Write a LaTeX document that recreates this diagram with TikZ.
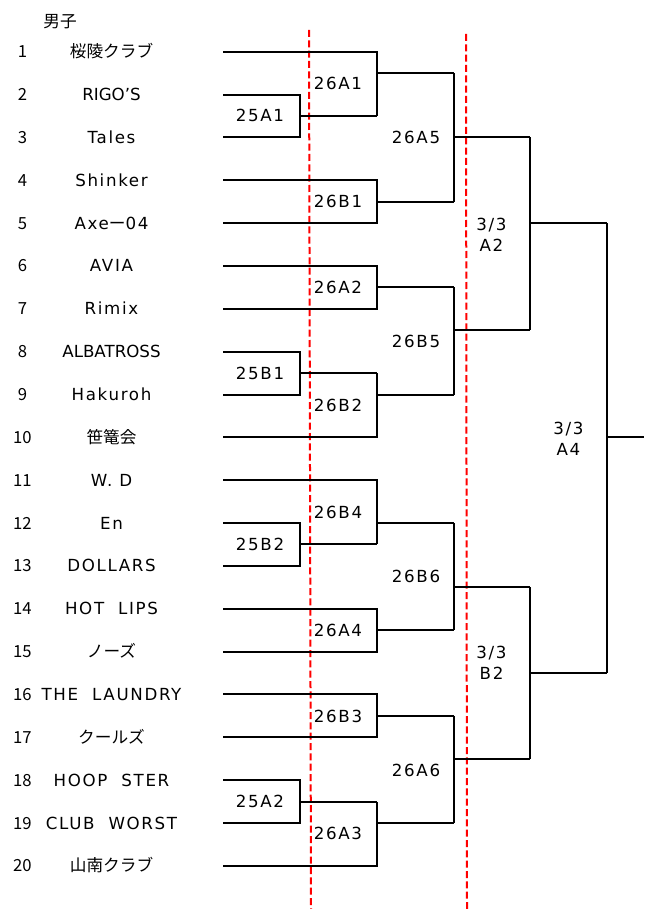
\documentclass[tikz,border=0pt]{standalone}
\usepackage{fontspec}
\setmainfont{DejaVu Sans}[LetterSpace=10]
\newfontfamily\jpfont{Noto Sans CJK JP}
\newfontfamily\tightfont{DejaVu Sans}
\tikzset{
  bk/.style={line width=1.5pt, draw=black},
  cutline/.style={draw=red, line width=1.5pt, dash pattern=on 5.25pt off 2.5pt},
  num/.style={font=\jpfont\fontsize{12.5}{15.75}\selectfont, anchor=base, inner sep=0pt},
  team/.style={font=\fontsize{12.5}{15.75}\selectfont, anchor=base, inner sep=0pt},
  mlbl/.style={font=\fontsize{12.5}{15.75}\selectfont, anchor=base, inner sep=0pt, align=center},
}
\begin{document}
\begin{tikzpicture}[x=0.75pt, y=-0.75pt]
  \useasboundingbox (0,0) rectangle (644,909);
  % red cut lines
  \draw[cutline] (309,30) -- (311,909);
  \draw[cutline] (466,34) -- (467,909);
  % columns of the bracket
  \coordinate (c25) at (300,0);
  \coordinate (c26) at (376.7,0);
  \coordinate (c26f) at (454,0);
  \coordinate (c33) at (530,0);
  \coordinate (c33f) at (606.7,0);
  \coordinate (c34) at (644,0);
  \node[num] (ttl) at (60,27.8) {男子};
  % teams
  \foreach \nm [count=\i] in {{\jpfont 桜陵クラブ}, {\tightfont RIGO’S}, Tales, Shinker, Axe{\jpfont ー}04, AVIA, Rimix, {\tightfont ALBATROSS}, Hakuroh, {\jpfont 笹篭会}, W. D, En, DOLLARS, HOT~~LIPS, {\jpfont ノーズ}, THE~~LAUNDRY, {\jpfont クールズ}, HOOP~~STER, CLUB~~WORST, {\jpfont 山南クラブ}} {
    \pgfmathsetmacro\yy{51.7+(\i-1)*42.85}
    \node[num] (n\i) at (22.5,\yy+6) {\i};
    \node[team] (t\i) at (111.5,\yy+6) {\nm};
    \coordinate (s\i) at (223,\yy);
  }
  \foreach \i in {1,...,19} {
    \pgfmathsetmacro\yy{51.7+(\i-0.5)*42.85}
    \coordinate (h\i) at (223,\yy);
  }
  % upper half
  \draw[bk] (s2) -| (c25 |- s3) -- (s3);
  \draw[bk] (c25 |- h2) -- (c26 |- h2);
  \draw[bk] (s1) -| (c26 |- h2);
  \draw[bk] (c26 |- h1) -- (c26f |- h1);
  \draw[bk] (s4) -| (c26 |- s5) -- (s5);
  \draw[bk] (c26 |- h4) -- (c26f |- h4);
  \draw[bk] (c26f |- h1) -- (c26f |- h4);
  \draw[bk] (c26f |- s3) -- (c33 |- s3);
  \draw[bk] (s6) -| (c26 |- s7) -- (s7);
  \draw[bk] (c26 |- h6) -- (c26f |- h6);
  \draw[bk] (s8) -| (c25 |- s9) -- (s9);
  \draw[bk] (c25 |- h8) -- (c26 |- h8);
  \draw[bk] (s10) -| (c26 |- h8);
  \draw[bk] (c26 |- s9) -- (c26f |- s9);
  \draw[bk] (c26f |- h6) -- (c26f |- s9);
  \draw[bk] (c26f |- h7) -- (c33 |- h7);
  \draw[bk] (c33 |- s3) -- (c33 |- h7);
  \draw[bk] (c33 |- s5) -- (c33f |- s5);
  % lower half
  \draw[bk] (s12) -| (c25 |- s13) -- (s13);
  \draw[bk] (c25 |- h12) -- (c26 |- h12);
  \draw[bk] (s11) -| (c26 |- h12);
  \draw[bk] (c26 |- s12) -- (c26f |- s12);
  \draw[bk] (s14) -| (c26 |- s15) -- (s15);
  \draw[bk] (c26 |- h14) -- (c26f |- h14);
  \draw[bk] (c26f |- s12) -- (c26f |- h14);
  \draw[bk] (c26f |- h13) -- (c33 |- h13);
  \draw[bk] (s16) -| (c26 |- s17) -- (s17);
  \draw[bk] (c26 |- h16) -- (c26f |- h16);
  \draw[bk] (s18) -| (c25 |- s19) -- (s19);
  \draw[bk] (c25 |- h18) -- (c26 |- h18);
  \draw[bk] (s20) -| (c26 |- h18);
  \draw[bk] (c26 |- s19) -- (c26f |- s19);
  \draw[bk] (c26f |- h16) -- (c26f |- s19);
  \draw[bk] (c26f |- h17) -- (c33 |- h17);
  \draw[bk] (c33 |- h13) -- (c33 |- h17);
  \draw[bk] (c33 |- h15) -- (c33f |- h15);
  % final
  \draw[bk] (c33f |- s5) -- (c33f |- h15);
  \draw[bk] (c33f |- s10) -- (c34 |- s10);
  % match labels
  \node[mlbl] (m25A1) at (260,121.6) {25A1};
  \node[mlbl] (m25B1) at (260,379.1) {25B1};
  \node[mlbl] (m25B2) at (260,550.5) {25B2};
  \node[mlbl] (m25A2) at (260,807.6) {25A2};
  \node[mlbl] (m26A1) at (338,89.7) {26A1};
  \node[mlbl] (m26B1) at (338,207.4) {26B1};
  \node[mlbl] (m26A2) at (338,293.3) {26A2};
  \node[mlbl] (m26B2) at (338,411.3) {26B2};
  \node[mlbl] (m26B4) at (338,518.4) {26B4};
  \node[mlbl] (m26A4) at (338,636.2) {26A4};
  \node[mlbl] (m26B3) at (338,722) {26B3};
  \node[mlbl] (m26A3) at (338,839.8) {26A3};
  \node[mlbl] (m26A5) at (416,143.4) {26A5};
  \node[mlbl] (m26B5) at (416,347) {26B5};
  \node[mlbl] (m26B6) at (416,582.5) {26B6};
  \node[mlbl] (m26A6) at (416,776) {26A6};
  \node[mlbl] (mA2) at (491.5,251) {3/3\\A2};
  \node[mlbl] (mA4) at (568.5,455) {3/3\\A4};
  \node[mlbl] (mB2) at (491.5,679.3) {3/3\\B2};
\end{tikzpicture}
\end{document}
